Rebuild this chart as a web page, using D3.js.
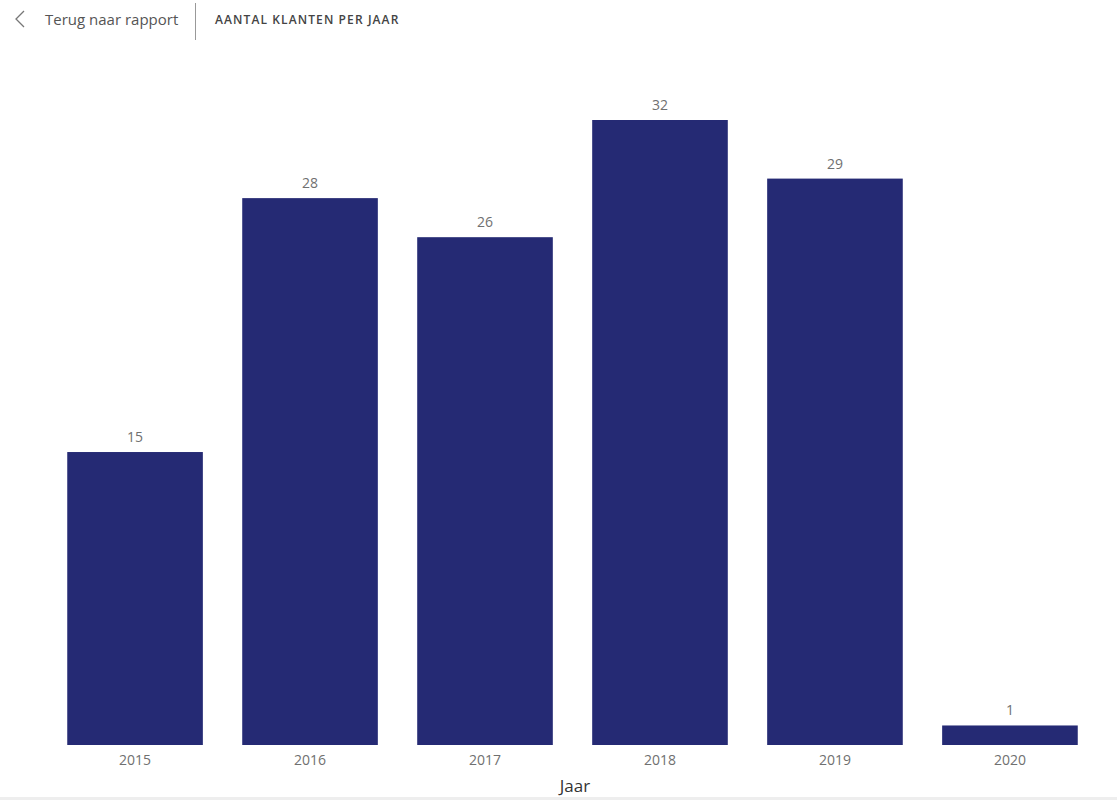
<!DOCTYPE html>
<html>
<head>
<meta charset="utf-8">
<script src="https://cdn.jsdelivr.net/npm/d3@7"></script>
<style>
  body { margin: 0; background: #fff; font-family: "Segoe UI", "Open Sans", sans-serif; }
</style>
</head>
<body>
<div id="chart"></div>
<script>
// Gegevens
const years = ["2015", "2016", "2017", "2018", "2019", "2020"]
const customers = [15, 28, 26, 32, 29, 1]

const width = 1117
const height = 800

const svg = d3.select("#chart")
  .append("svg")
  .attr("width", width)
  .attr("height", height)

// Kopregel
const header = svg.append("g")
header.append("path")
  .attr("d", "M24,11 L16,19 L24,27")
  .attr("fill", "none")
  .attr("stroke", "#777")
  .attr("stroke-width", 1.3)
header.append("text")
  .attr("x", 45).attr("y", 25)
  .attr("font-size", 15)
  .attr("fill", "#555")
  .text("Terug naar rapport")
header.append("line")
  .attr("x1", 195.5).attr("x2", 195.5)
  .attr("y1", 3).attr("y2", 40)
  .attr("stroke", "#999")
header.append("text")
  .attr("x", 215).attr("y", 24)
  .attr("font-size", 12)
  .attr("font-weight", 600)
  .attr("letter-spacing", 1.1)
  .attr("fill", "#444")
  .text("AANTAL KLANTEN PER JAAR")

// Schalen
const x = d3.scaleBand()
  .domain(years)
  .range([48, 1097])
  .paddingInner(0.225)
  .paddingOuter(0.11)

const y = d3.scaleLinear()
  .domain([0, 32])
  .range([745, 120])

// Staven
svg.selectAll("rect.bar")
  .data(years)
  .enter()
  .append("rect")
  .attr("class", "bar")
  .attr("x", (d) => x(d))
  .attr("width", x.bandwidth())
  .attr("y", (d, i) => y(customers[i]))
  .attr("height", (d, i) => y(0) - y(customers[i]))
  .attr("fill", "#252a74")

// Waardelabels
svg.selectAll("text.label")
  .data(years)
  .enter()
  .append("text")
  .attr("class", "label")
  .attr("x", (d) => x(d) + x.bandwidth() / 2)
  .attr("y", (d, i) => y(customers[i]) - 10)
  .attr("text-anchor", "middle")
  .attr("font-size", 14)
  .attr("fill", "#707070")
  .text((d, i) => customers[i])

// X-as
const xAxis = svg.append("g")
  .attr("transform", "translate(0,745)")
  .call(d3.axisBottom(x).tickSize(0).tickPadding(10))
xAxis.select(".domain").remove()
xAxis.selectAll("text")
  .attr("font-size", 14)
  .attr("font-family", "\"Segoe UI\", \"Open Sans\", sans-serif")
  .attr("fill", "#707070")

svg.append("text")
  .attr("x", 575).attr("y", 792)
  .attr("text-anchor", "middle")
  .attr("font-size", 17)
  .attr("fill", "#333")
  .text("Jaar")

// Onderrand
svg.append("rect")
  .attr("x", 0).attr("y", 797)
  .attr("width", width).attr("height", 3)
  .attr("fill", "#eee")
</script>
</body>
</html>
